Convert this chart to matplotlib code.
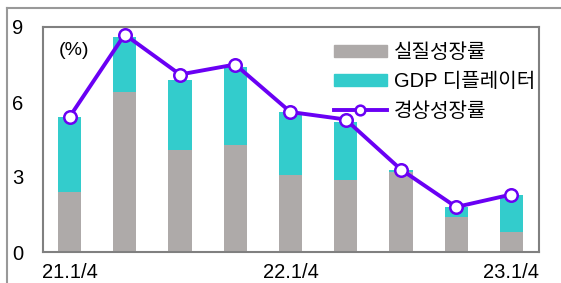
import matplotlib.pyplot as plt
from matplotlib.lines import Line2D
from matplotlib.patches import Patch
import numpy as np

plt.rcParams['font.family'] = ['Liberation Sans', 'Noto Sans CJK KR', 'DejaVu Sans']

# 분기별 데이터 (%)
quarters = ['21.1/4', '21.2/4', '21.3/4', '21.4/4', '22.1/4',
            '22.2/4', '22.3/4', '22.4/4', '23.1/4']
real_growth = [2.4, 6.4, 4.1, 4.3, 3.1, 2.9, 3.2, 1.4, 0.8]
deflator = [3.0, 2.2, 2.8, 3.1, 2.5, 2.3, 0.1, 0.4, 1.5]
nominal_growth = [5.4, 8.7, 7.1, 7.5, 5.6, 5.3, 3.3, 1.8, 2.3]
shown_ticks = ['21.1/4', '22.1/4', '23.1/4']

GRAY = '#aeaaa9'
TEAL = '#33cccc'
PURPLE = '#6a00f4'

fig = plt.figure(figsize=(5.61, 2.83), dpi=100)
ax = fig.add_axes([43 / 561, 1 - 252 / 283, (539 - 43) / 561, (252 - 27) / 283])

x = np.arange(len(quarters))
ax.bar(x, real_growth, width=0.42, color=GRAY, edgecolor='none', zorder=2)
ax.bar(x, deflator, width=0.42, bottom=real_growth, color=TEAL, edgecolor='none', zorder=2)
ax.plot(x, nominal_growth, color=PURPLE, lw=2.8, marker='o', ms=9,
        mfc='white', mec=PURPLE, mew=1.8, zorder=3)

ax.set_xlim(-0.48, 8.5)
ax.set_ylim(0, 9)
ax.set_yticks([0, 3, 6, 9])
ax.set_xticks([quarters.index(q) for q in shown_ticks])
ax.set_xticklabels(shown_ticks)
ax.tick_params(length=0, labelsize=14.5)
ax.tick_params(axis='y', pad=14)
ax.tick_params(axis='x', pad=8)
for s in ax.spines.values():
    s.set_color('#808080')
    s.set_linewidth(1.5)

ax.text(0.0625, 0.897, '(%)', transform=ax.transAxes, ha='center', va='center', fontsize=14)

handles = [Patch(color=GRAY), Patch(color=TEAL),
           Line2D([], [], color=PURPLE, lw=2.8, marker='o', ms=7, mfc='white', mec=PURPLE, mew=1.8)]
labels = ['실질성장률', 'GDP 디플레이터', '경상성장률']
ax.legend(handles, labels, loc='upper right', bbox_to_anchor=(1.0, 0.945), frameon=False,
          fontsize=14.5, handlelength=2.6, handleheight=0.55, labelspacing=0.5,
          handletextpad=0.35, borderaxespad=0, borderpad=0.2, numpoints=1)

# 바깥 테두리
fig.add_artist(Line2D([7 / 561, 7 / 561], [0, 1 - 8 / 283], color='#999999', lw=1.5))
fig.add_artist(Line2D([7 / 561, 1], [1 - 8 / 283, 1 - 8 / 283], color='#999999', lw=1.5))

fig.savefig('out.png', dpi=100)
